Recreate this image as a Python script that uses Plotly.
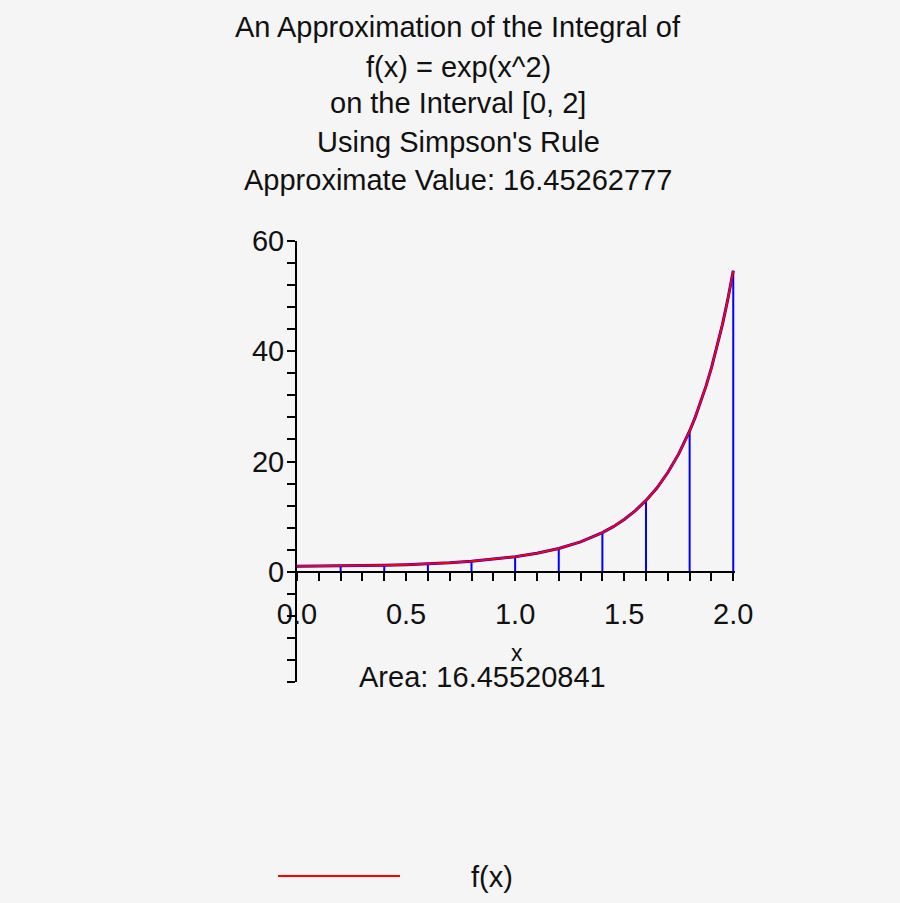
import plotly.graph_objects as go

# ---- data ----
curve_x = [0.0, 0.1, 0.2, 0.3, 0.4, 0.5, 0.6, 0.7, 0.8, 0.9, 1.0,
           1.1, 1.2, 1.3, 1.35, 1.4, 1.45, 1.5, 1.55, 1.6, 1.65, 1.7, 1.75, 1.8,
           1.825, 1.85, 1.875, 1.9, 1.925, 1.95, 1.975, 2.0]
curve_y = [1.0, 1.01, 1.041, 1.094, 1.174, 1.284, 1.433, 1.632, 1.896, 2.248, 2.718,
           3.353, 4.221, 5.419, 6.186, 7.099, 8.18, 9.488, 11.03, 12.936, 15.18,
           17.993, 21.38, 25.534, 27.95, 30.67, 33.67, 36.966, 40.66, 44.79, 49.4,
           54.598]

part_x = [0.2, 0.4, 0.6, 0.8, 1.0, 1.2, 1.4, 1.6, 1.8, 2.0]
part_y = [1.041, 1.174, 1.433, 1.896, 2.718, 4.221, 7.099, 12.936, 25.534, 54.598]

title_lines = ["An Approximation of the Integral of", "f(x) = exp(x^2)",
               "on the Interval [0, 2]", "Using Simpson's Rule",
               "Approximate Value: 16.45262777"]
area_text = "Area: 16.45520841"
x_ticks = [0.0, 0.5, 1.0, 1.5, 2.0]
y_ticks = [0, 20, 40, 60]
legend_name = "f(x)"

FONT = "Liberation Sans, Arial, sans-serif"
FS = 29
TXT = "#111111"
BG = "#f5f5f5"

fig = go.Figure()

# blue parabolic approximation (drawn under the curve)
fig.add_trace(go.Scatter(x=curve_x, y=curve_y, mode="lines",
                         line=dict(color="#0000ff", width=3), showlegend=False,
                         hoverinfo="skip"))
# vertical partition lines
vx, vy = [], []
for xv, yv in zip(part_x, part_y):
    vx += [xv, xv, None]
    vy += [0, yv, None]
fig.add_trace(go.Scatter(x=vx, y=vy, mode="lines",
                         line=dict(color="#0000ff", width=2), showlegend=False,
                         hoverinfo="skip"))
# function curve
fig.add_trace(go.Scatter(x=curve_x, y=curve_y, mode="lines", name=legend_name,
                         line=dict(color="#ff0000", width=2), showlegend=False))

L, R, T, B = 297, 165, 241, 221
W = 900 - L - R
H = 903 - T - B


def px(x):
    return (x - L) / W


def py(y):
    return (T + H - y) / H


annotations = []
title_y = [27, 67, 103, 142, 180]
for txt, yy in zip(title_lines, title_y):
    annotations.append(dict(text=txt, x=px(458), y=py(yy), xref="paper", yref="paper",
                            xanchor="center", yanchor="middle", showarrow=False,
                            font=dict(family=FONT, size=FS, color=TXT)))
annotations.append(dict(text="x", x=px(517), y=py(653), xref="paper", yref="paper",
                        xanchor="center", yanchor="middle", showarrow=False,
                        font=dict(family=FONT, size=FS - 6, color=TXT)))
annotations.append(dict(text=area_text, x=px(482), y=py(677), xref="paper", yref="paper",
                        xanchor="center", yanchor="middle", showarrow=False,
                        font=dict(family=FONT, size=FS, color=TXT)))
annotations.append(dict(text=legend_name, x=px(492), y=py(877), xref="paper", yref="paper",
                        xanchor="center", yanchor="middle", showarrow=False,
                        font=dict(family=FONT, size=FS, color=TXT)))

shapes = [dict(type="line", xref="paper", yref="paper", x0=px(278), x1=px(400),
               y0=py(876), y1=py(876), line=dict(color="#ff0000", width=2))]

y_min, y_max = -20, 60
fig.update_layout(
    width=900, height=903,
    margin=dict(l=L, r=R, t=T, b=B, pad=0),
    paper_bgcolor=BG, plot_bgcolor=BG,
    showlegend=False,
    annotations=annotations,
    shapes=shapes,
    xaxis=dict(range=[0, 2.008], anchor="free",
               position=(0 - y_min) / (y_max - y_min),
               showgrid=False, zeroline=False, showline=True,
               linecolor="black", linewidth=2,
               tickmode="array", tickvals=x_ticks, tickformat=".1f",
               ticks="outside", ticklen=8, tickwidth=2, tickcolor="black",
               ticklabelstandoff=8,
               tickfont=dict(family=FONT, size=FS, color=TXT),
               minor=dict(tickmode="array",
                          tickvals=[i / 10 for i in range(21)],
                          ticks="outside", ticklen=8, tickwidth=2,
                          tickcolor="black", showgrid=False)),
    yaxis=dict(range=[y_min, y_max], showgrid=False, zeroline=False,
               showline=True, linecolor="black", linewidth=2,
               tickmode="array", tickvals=y_ticks,
               ticks="outside", ticklen=8, tickwidth=2, tickcolor="black",
               ticklabelstandoff=-3,
               tickfont=dict(family=FONT, size=FS, color=TXT),
               minor=dict(tickmode="array",
                          tickvals=list(range(-20, 61, 4)),
                          ticks="outside", ticklen=8, tickwidth=2,
                          tickcolor="black", showgrid=False)),
)

fig.write_html("out.html")
